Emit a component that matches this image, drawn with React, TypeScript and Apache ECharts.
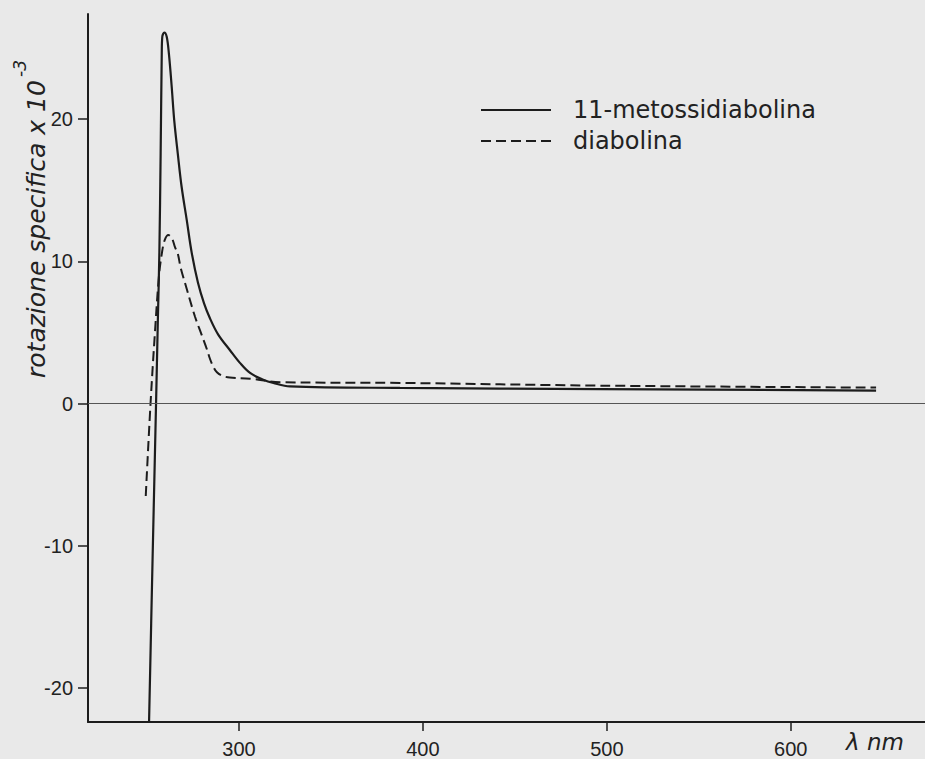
import React, { useEffect, useRef } from "react";
import * as echarts from "echarts";

// wavelength (nm) and specific rotation (x 10^-3)
const solidNm = [251.1, 253.0, 254.9, 255.9, 256.7, 257.4, 258.0, 258.3, 259.4, 260.7, 261.9, 263.4, 264.8, 266.7, 268.8, 271.6, 274.3, 277.7, 281.0, 284.2, 288.7, 295.1, 300.5, 306.0, 313.2, 318.7, 327.7, 387.5, 496.3, 646.4];
const solidVal = [-22.4, -11, 0, 6, 10.6, 17.6, 24.6, 25.8, 26.1, 25.8, 24.6, 22.3, 19.9, 17.6, 15.25, 12.9, 10.6, 8.5, 7.05, 6.0, 4.85, 3.75, 2.86, 2.15, 1.68, 1.45, 1.21, 1.1, 1.02, 0.91];

const dashNm = [249.3, 251.9, 254.3, 256.5, 258.1, 259.6, 261.6, 263.6, 265.2, 266.8, 268.2, 270.6, 276.1, 279.5, 282.6, 284.2, 286.0, 288.0, 291.0, 295.0, 306.0, 322.3, 387.5, 496.3, 646.4];
const dashVal = [-6.5, 0, 5, 9, 10.6, 11.5, 11.86, 11.6, 11.0, 10.5, 9.6, 8.5, 6.1, 4.9, 3.8, 3.15, 2.6, 2.2, 1.95, 1.83, 1.75, 1.5, 1.45, 1.26, 1.12];

const xTicks = [300, 400, 500, 600];
const yTicks = [-20, -10, 0, 10, 20];
const seriesNames = ["11-metossidiabolina", "diabolina"];

const INK = "#1c1c1c";
const BG = "#e9e9e9";

export default function App() {
  const ref = useRef<HTMLDivElement>(null);
  useEffect(() => {
    if (!ref.current) return;
    const chart = echarts.init(ref.current, null, { renderer: "svg" });
    const zip = (xs: number[], ys: number[]) => xs.map((x, i) => [x, ys[i]]);
    chart.setOption({
      animation: false,
      backgroundColor: BG,
      grid: { left: 88, top: 14, right: 0, bottom: 36, containLabel: false },
      xAxis: {
        type: "value",
        min: 217.9,
        max: 673,
        axisLine: { onZero: false, lineStyle: { color: INK, width: 2 } },
        axisTick: { customValues: xTicks, length: 9, lineStyle: { color: INK, width: 1.5 } },
        axisLabel: {
          customValues: xTicks,
          margin: 17,
          color: "#222",
          fontSize: 20,
          fontFamily: "Liberation Sans",
        },
        splitLine: { show: false },
      },
      yAxis: {
        type: "value",
        min: -22.4,
        max: 27.4,
        axisLine: { onZero: false, lineStyle: { color: INK, width: 2 } },
        axisTick: { customValues: yTicks, length: 10, lineStyle: { color: INK, width: 1.5 } },
        axisLabel: {
          customValues: yTicks,
          margin: 15,
          color: "#222",
          fontSize: 20,
          fontFamily: "Liberation Sans",
        },
        splitLine: { show: false },
      },
      legend: {
        orient: "vertical",
        left: 480,
        top: 98,
        padding: 0,
        itemWidth: 70,
        itemHeight: 14,
        itemGap: 7,
        itemStyle: { color: "rgba(0,0,0,0)", borderWidth: 0, opacity: 0 },
        textStyle: {
          color: "#222",
          fontSize: 24,
          fontFamily: "DejaVu Sans",
          padding: [0, 0, 0, 17],
        },
        data: seriesNames,
      },
      graphic: [
        {
          type: "text",
          x: 36,
          y: 378,
          rotation: Math.PI / 2,
          style: {
            text: "rotazione specifica x 10",
            fontFamily: "DejaVu Sans",
            fontStyle: "italic",
            fontSize: 25,
            fill: "#222",
            textAlign: "left",
            textVerticalAlign: "middle",
          },
        },
        {
          type: "text",
          x: 20,
          y: 77,
          rotation: Math.PI / 2,
          style: {
            text: "-3",
            fontFamily: "DejaVu Sans",
            fontStyle: "italic",
            fontSize: 17,
            fill: "#222",
            textAlign: "left",
            textVerticalAlign: "middle",
          },
        },
        {
          type: "text",
          x: 846,
          y: 742,
          style: {
            text: "λ nm",
            fontFamily: "DejaVu Sans",
            fontStyle: "italic",
            fontSize: 23,
            fill: "#222",
            textAlign: "left",
            textVerticalAlign: "middle",
          },
        },
      ],
      series: [
        {
          name: seriesNames[0],
          type: "line",
          data: zip(solidNm, solidVal),
          showSymbol: false,
          symbol: "none",
          smooth: 0.35,
          lineStyle: { color: INK, width: 2.2, type: "solid" },
          itemStyle: { color: INK },
          markLine: {
            silent: true,
            symbol: "none",
            label: { show: false },
            lineStyle: { color: "#555", width: 1, type: "solid" },
            data: [{ yAxis: 0 }],
          },
          z: 3,
        },
        {
          name: seriesNames[1],
          type: "line",
          data: zip(dashNm, dashVal),
          showSymbol: false,
          symbol: "none",
          smooth: 0.35,
          lineStyle: { color: INK, width: 2, type: [10, 5] },
          itemStyle: { color: INK },
          z: 3,
        },
      ],
    });
    return () => chart.dispose();
  }, []);
  return (
    <div
      ref={ref}
      style={{ position: "fixed", left: 0, top: 0, width: 925, height: 759, background: BG }}
    />
  );
}
